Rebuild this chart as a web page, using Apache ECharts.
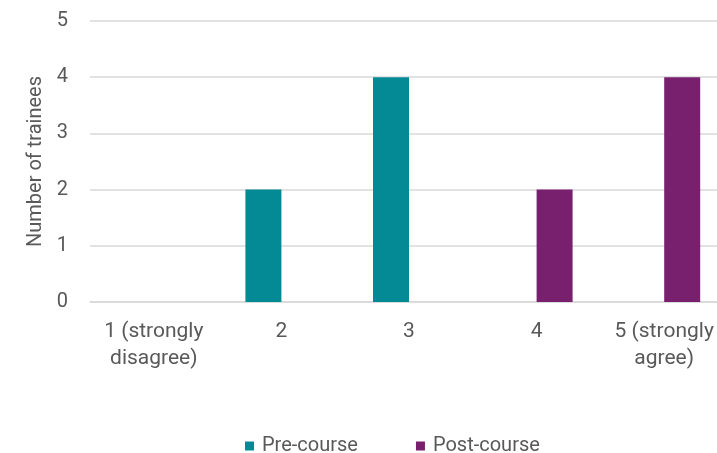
<!DOCTYPE html>
<html lang="en">
<head>
    <meta charset="UTF-8">
    <title>Trainees</title>
    <style>
        body{ margin: 0; overflow: hidden; }
    </style>
</head>
<body>
<div id="main" style="width: 728px;height:453px;"></div>
<script src="https://cdn.jsdelivr.net/npm/echarts@6/dist/echarts.min.js"></script>
<script type="text/javascript">
    var categories = ['1 (strongly\ndisagree)', '2', '3', '4', '5 (strongly\nagree)'];
    var preCourse = [0, 2, 4, 0, 0];
    var postCourse = [0, 0, 0, 2, 4];
    var yTicks = [0, 1, 2, 3, 4, 5];

    // the plot runs a bit past the right edge of the 717px window, like the original
    var myChart = echarts.init(document.getElementById('main'));
    var textColor = '#595959';
    var option = {
        animation: false,
        textStyle: { fontFamily: 'Roboto, sans-serif' },
        grid: {
            left: 90,
            top: 21,
            right: 0,
            bottom: 151
        },
        legend: {
            bottom: -8,
            left: 240,
            itemWidth: 9,
            itemHeight: 9,
            itemGap: 58,
            icon: 'rect',
            textStyle: { color: textColor, fontSize: 20, padding: [0, 0, 0, 3] },
            data: ['Pre-course', 'Post-course']
        },
        xAxis: {
            type: 'category',
            data: categories,
            axisLine: { lineStyle: { color: '#d9d9d9', width: 1.5 } },
            axisTick: { show: false },
            axisLabel: {
                color: textColor,
                fontSize: 21,
                lineHeight: 27,
                margin: 16,
                interval: 0
            }
        },
        yAxis: {
            type: 'value',
            min: yTicks[0],
            max: yTicks[yTicks.length - 1],
            interval: 1,
            name: 'Number of trainees',
            nameLocation: 'middle',
            nameGap: 44,
            nameTextStyle: { color: textColor, fontSize: 20 },
            axisLine: { show: false },
            axisLabel: { color: textColor, fontSize: 20, margin: 22 },
            splitLine: { lineStyle: { color: '#d9d9d9', width: 1.5 } }
        },
        series: [
            {
                name: 'Pre-course',
                type: 'bar',
                data: preCourse,
                barWidth: 36,
                barGap: '0%',
                itemStyle: { color: '#038a94' }
            },
            {
                name: 'Post-course',
                type: 'bar',
                data: postCourse,
                barWidth: 36,
                itemStyle: { color: '#78206e' }
            }
        ]
    };
    myChart.setOption(option);
</script>
</body>
</html>
